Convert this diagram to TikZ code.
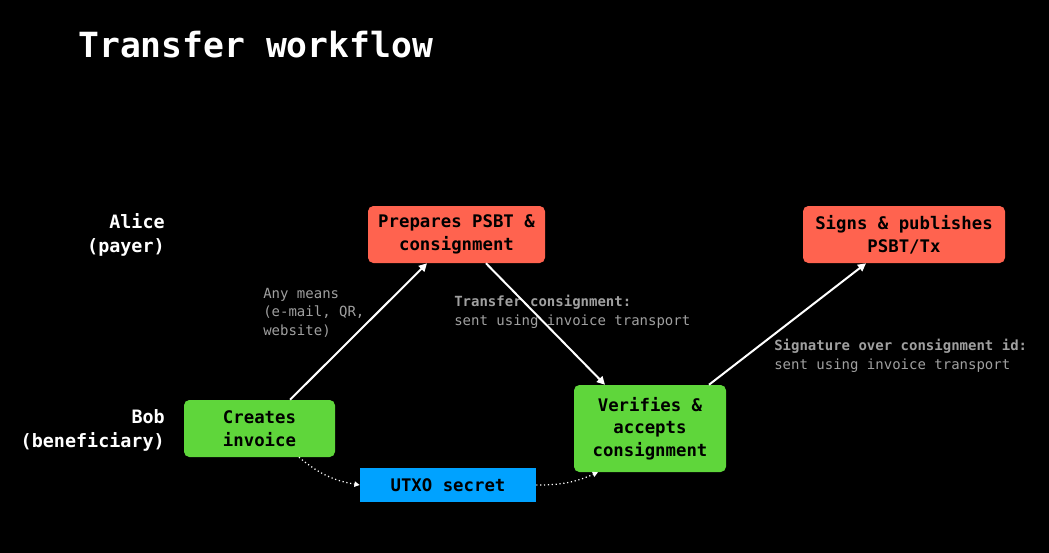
\documentclass[tikz,border=0pt]{standalone}
\usepackage{fontspec}
\setmonofont{DejaVu Sans Mono}
\usepackage{xcolor}
\usetikzlibrary{arrows.meta}
\definecolor{payerred}{HTML}{FF634F}
\definecolor{benefgreen}{HTML}{5FD63B}
\definecolor{secretblue}{HTML}{00A2FF}
\definecolor{notegray}{HTML}{A0A0A0}
\tikzset{
  stepnode/.style={rounded corners=4pt,inner sep=2pt,font=\ttfamily\bfseries\fontsize{13}{17}\selectfont,text=black,align=center,minimum height=42.75pt},
  payernode/.style={stepnode,fill=payerred},
  benefnode/.style={stepnode,fill=benefgreen},
  rolelabel/.style={font=\ttfamily\bfseries\fontsize{13.8}{18}\selectfont,text=white,align=right,anchor=east,inner sep=0pt},
  notelabel/.style={font=\ttfamily\fontsize{10.5}{13.8}\selectfont,text=notegray,align=left,anchor=west,inner sep=0pt},
  flowarrow/.style={-{Triangle[length=6pt,width=6pt]},draw=white,line width=1.5pt},
  secretarrow/.style={-{Triangle[length=4pt,width=4pt]},draw=white,line width=0.9pt,dotted},
}
\begin{document}
\begin{tikzpicture}[x=0.75pt,y=-0.75pt]
  \fill[black] (0,0) rectangle (1049,553);
  \useasboundingbox (0,0) rectangle (1049,553);

  \node[font=\ttfamily\bfseries\fontsize{26}{30}\selectfont,text=white,anchor=west,inner sep=0pt] (title) at (78,45) {Transfer workflow};

  % lanes
  \node[rolelabel] (alice) at (165,235) {Alice\\(payer)};
  \node[rolelabel] (bob) at (165,430.5) {Bob\\(beneficiary)};

  % steps
  \node[benefnode,minimum width=113.25pt] (invoice) at (259.5,428.5) {Creates\\invoice};
  \node[payernode,minimum width=132.75pt] (prepare) at (456.5,234.5) {Prepares PSBT \&\\consignment};
  \node[benefnode,minimum width=114pt,minimum height=65.25pt] (verify) at (650,428.5) {Verifies \&\\accepts\\consignment};
  \node[payernode,minimum width=151.5pt] (publish) at (904,234.5) {Signs \& publishes\\PSBT/Tx};
  \node[stepnode,rounded corners=0pt,fill=secretblue,minimum width=132pt,minimum height=25.5pt] (secret) at (448,485) {UTXO secret};

  % notes
  \node[notelabel] (means) at (263,312.5) {Any means\\(e-mail, QR,\\website)};
  \node[notelabel] (transfer) at (454,312) {\textbf{Transfer consignment:}\\sent using invoice transport};
  \node[notelabel] (signature) at (774,356) {\textbf{Signature over consignment id:}\\sent using invoice transport};

  \draw[flowarrow] ([xshift=22.9pt]invoice.north) -- ([xshift=-22.1pt]prepare.south);
  \draw[flowarrow] ([xshift=22.1pt]prepare.south) -- ([xshift=-33.75pt]verify.north);
  \draw[flowarrow] ([xshift=44.25pt]verify.north) -- ([xshift=-28.5pt]publish.south);
  \draw[secretarrow] ([xshift=29.6pt]invoice.south) to[bend right=15] (secret.west);
  \draw[secretarrow] (secret.east) to[bend right=12] ([xshift=-39pt]verify.south);
\end{tikzpicture}
\end{document}
